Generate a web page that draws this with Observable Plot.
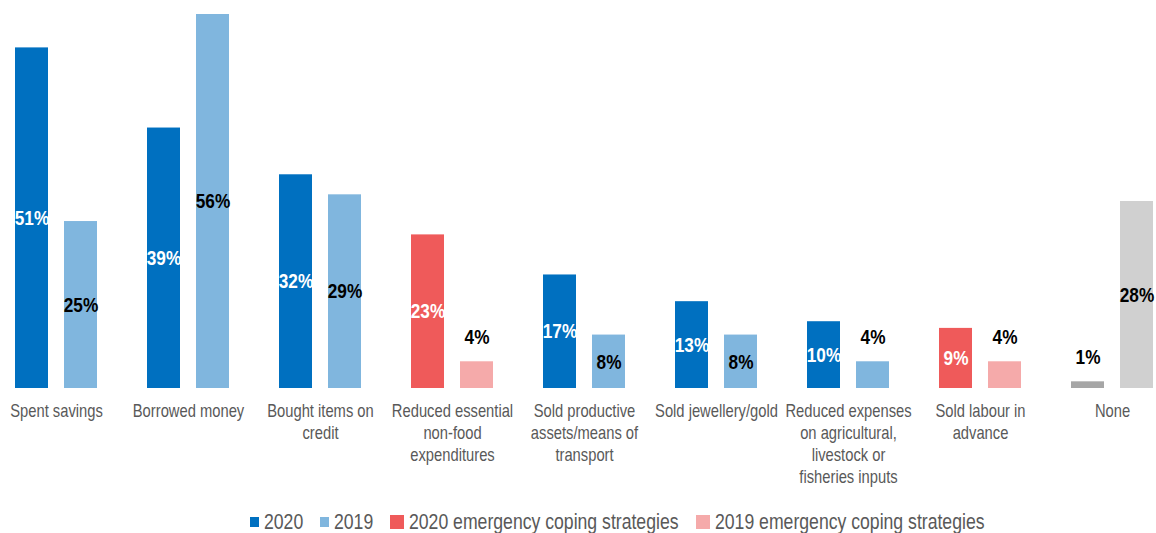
<!DOCTYPE html>
<html>
<head>
<meta charset="utf-8">
<script src="https://cdn.jsdelivr.net/npm/d3@7"></script>
<script src="https://cdn.jsdelivr.net/npm/@observablehq/plot@0.6"></script>
<style>
  html, body { margin: 0; padding: 0; background: #fff; }
  body { width: 1156px; height: 533px; overflow: hidden; font-family: "Liberation Sans", Arial, sans-serif; }
  #legend { position: relative; height: 33px; font-size: 21.5px; color: #595959; white-space: nowrap; }
  #legendRow { position: absolute; left: 250px; top: 10px; display: flex; align-items: center; }
  .item { display: flex; align-items: center; }
  .sw { display: inline-block; margin-right: 5px; }
  .lt { display: inline-block; transform: scaleX(0.82); transform-origin: 0 50%; line-height: 24px; }
</style>
</head>
<body>
<div id="chart"></div>
<div id="legend"><div id="legendRow"></div></div>
<script>
const categories = ["Spent savings", "Borrowed money", "Bought items on credit", "Reduced essential non-food expenditures", "Sold productive assets/means of transport", "Sold jewellery/gold", "Reduced expenses on agricultural, livestock or fisheries inputs", "Sold labour in advance", "None"];
const categoryLabels = ["Spent savings", "Borrowed money", "Bought items on\ncredit", "Reduced essential\nnon-food\nexpenditures", "Sold productive\nassets/means of\ntransport", "Sold jewellery/gold", "Reduced expenses\non agricultural,\nlivestock or\nfisheries inputs", "Sold labour in\nadvance", "None"];
const values2020 = [51, 39, 32, 23, 17, 13, 10, 9, 1];
const values2019 = [25, 56, 29, 4, 8, 8, 4, 4, 28];
const types2020 = ["2020", "2020", "2020", "2020 emergency", "2020", "2020", "2020", "2020 emergency", "None 2020"];
const types2019 = ["2019", "2019", "2019", "2019 emergency", "2019", "2019", "2019", "2019 emergency", "None 2019"];
const colorDomain = ["2020", "2019", "2020 emergency", "2019 emergency", "None 2020", "None 2019"];
const colorRange = ["#0070C0", "#80B6DE", "#EF5A5A", "#F5AAAA", "#A6A6A6", "#D0D0D0"];
const legendItems = [
  {label: "2020", color: "#0070C0", w: 9, h: 10},
  {label: "2019", color: "#80B6DE", w: 9, h: 10},
  {label: "2020 emergency coping strategies", color: "#EF5A5A", w: 14, h: 14},
  {label: "2019 emergency coping strategies", color: "#F5AAAA", w: 14, h: 14}
];

const rows = [];
categories.forEach((c, i) => {
  rows.push({cat: c, year: "2020", value: values2020[i], type: types2020[i]});
  rows.push({cat: c, year: "2019", value: values2019[i], type: types2019[i]});
});
const inside = rows.filter(d => d.value >= 6);
const above = rows.filter(d => d.value < 6);
const labelRows = categories.map((c, i) => ({cat: c, label: categoryLabels[i]}));
const labelColor = d => d.year === "2020" ? "#ffffff" : "#000000";

const chart = Plot.plot({
  width: 1156,
  height: 500,
  marginTop: 14,
  marginBottom: 112,
  marginLeft: 0,
  marginRight: 0,
  style: {fontFamily: "'Liberation Sans', Arial, sans-serif", background: "#fff"},
  fx: {domain: categories, range: [-10, 1178], padding: 0, axis: null},
  x: {domain: ["2020", "2019"], paddingInner: 0.327, paddingOuter: 0.51, axis: null},
  y: {domain: [0, 56], axis: null},
  color: {domain: colorDomain, range: colorRange},
  marks: [
    Plot.barY(rows, {fx: "cat", x: "year", y: "value", fill: "type"}),
    Plot.text(inside, {fx: "cat", x: "year", y: d => d.value / 2, text: d => d.value + "%", fill: labelColor, fontSize: 21, fontWeight: "bold", className: "narrow"}),
    Plot.text(above, {fx: "cat", x: "year", y: "value", dy: -25, text: d => d.value + "%", fill: "#000", fontSize: 21, fontWeight: "bold", className: "narrow"}),
    Plot.text(labelRows, {fx: "cat", y: 0, dy: 13, lineAnchor: "top", text: "label", fill: "#595959", fontSize: 18, lineHeight: 1.222, className: "narrow"})
  ]
});
document.getElementById("chart").appendChild(chart);

// Condense text horizontally (Arial Narrow look); the anchor stays at the translate origin
chart.querySelectorAll(".narrow text").forEach(el => {
  const t = el.getAttribute("transform") || "";
  el.setAttribute("transform", `${t} scale(0.82,1)`);
});

const legendRow = document.getElementById("legendRow");
legendItems.forEach((it, i) => {
  const item = document.createElement("span");
  item.className = "item";
  const sw = document.createElement("span");
  sw.className = "sw";
  sw.style.width = it.w + "px";
  sw.style.height = it.h + "px";
  sw.style.background = it.color;
  const t = document.createElement("span");
  t.className = "lt";
  t.textContent = it.label;
  item.appendChild(sw);
  item.appendChild(t);
  legendRow.appendChild(item);
  const w = t.offsetWidth;
  t.style.marginRight = (-0.18 * w + (i < legendItems.length - 1 ? 17 : 0)) + "px";
});
</script>
</body>
</html>
